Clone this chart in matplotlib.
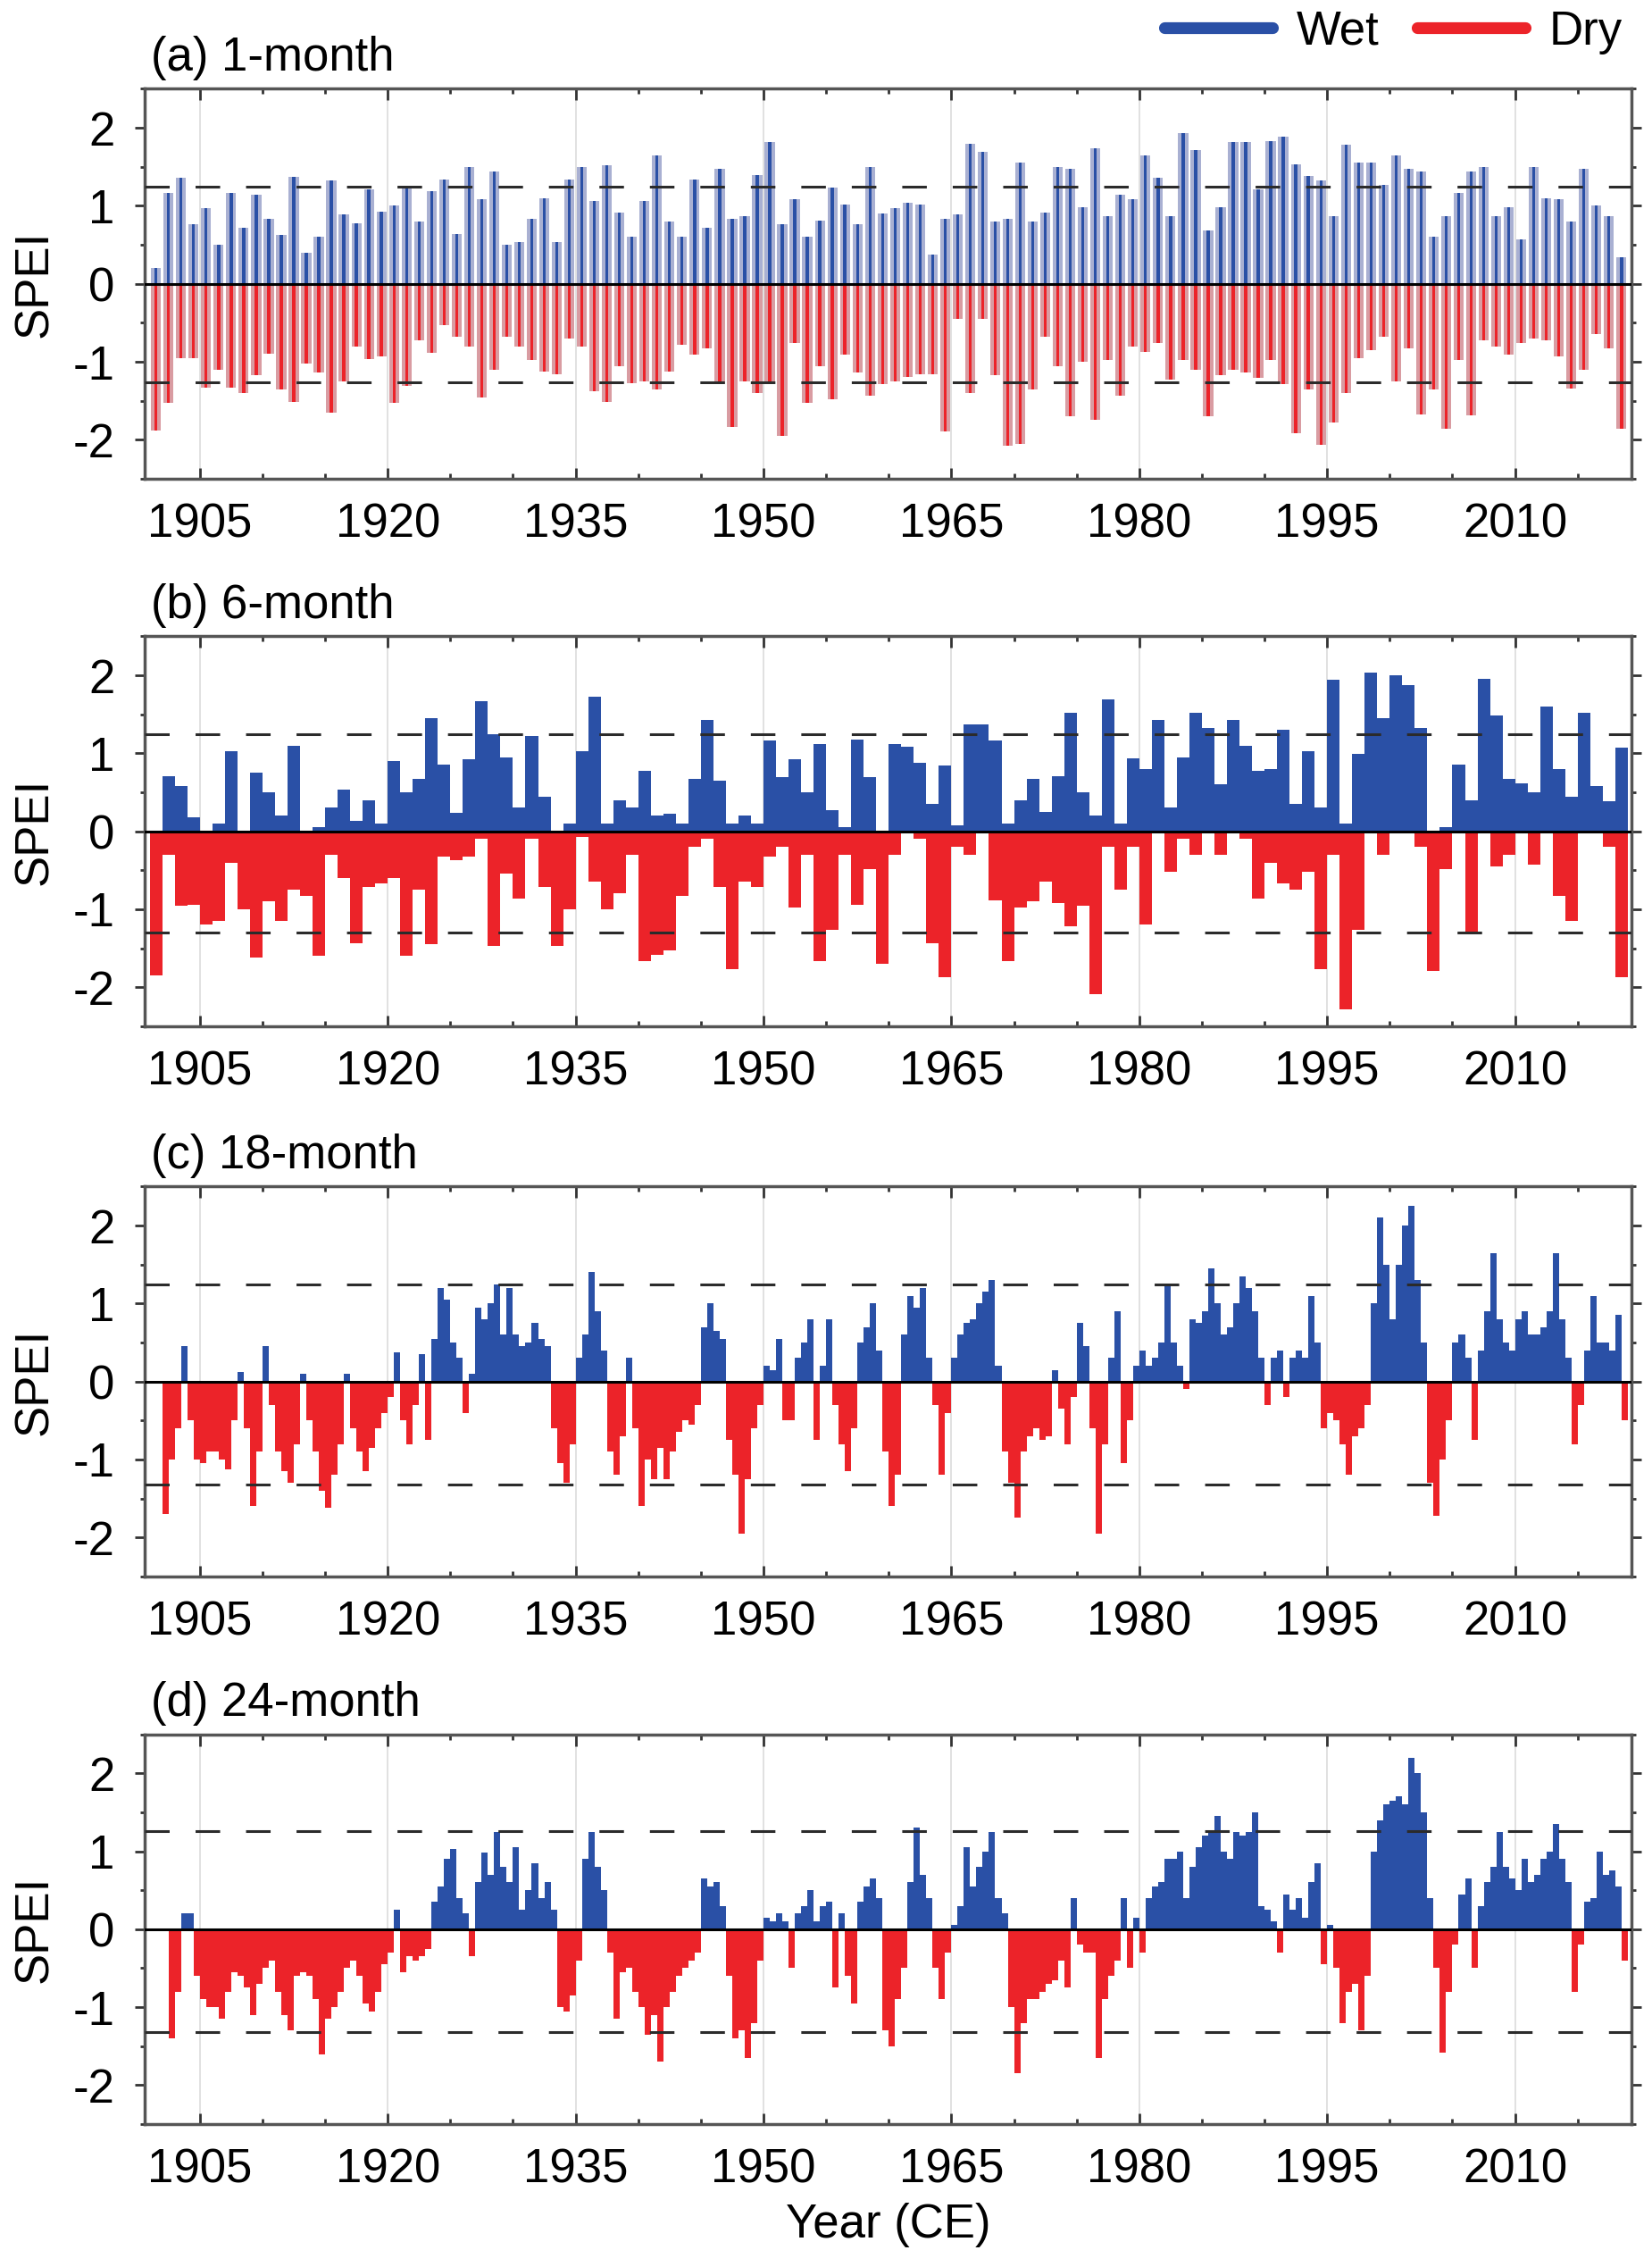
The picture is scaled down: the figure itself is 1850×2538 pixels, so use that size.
import numpy as np
import matplotlib.pyplot as plt
from matplotlib.lines import Line2D
from matplotlib.ticker import MultipleLocator

plt.rcParams['font.family'] = ['Liberation Sans', 'DejaVu Sans']
plt.rcParams['axes.unicode_minus'] = False

# years covered by the yearly series (panels a and b)
years = np.arange(1901, 2019)

# (a) 1-month SPEI: wettest and driest month of each year
wet_1m = [0.2, 1.17, 1.36, 0.76, 0.97, 0.5, 1.17, 0.72, 1.14, 0.83,
          0.63, 1.37, 0.4, 0.6, 1.33, 0.89, 0.78, 1.21, 0.93, 1.0,
          1.23, 0.8, 1.19, 1.34, 0.64, 1.5, 1.08, 1.44, 0.5, 0.53,
          0.83, 1.1, 0.53, 1.34, 1.5, 1.06, 1.52, 0.91, 0.6, 1.06,
          1.65, 0.8, 0.6, 1.34, 0.72, 1.48, 0.83, 0.87, 1.4, 1.82,
          0.76, 1.08, 0.6, 0.81, 1.23, 1.02, 0.76, 1.5, 0.9, 0.97,
          1.04, 1.02, 0.38, 0.83, 0.89, 1.79, 1.69, 0.8, 0.83, 1.55,
          0.8, 0.91, 1.5, 1.48, 0.98, 1.74, 0.87, 1.14, 1.08, 1.65,
          1.36, 0.87, 1.93, 1.72, 0.68, 0.98, 1.82, 1.82, 1.21, 1.83,
          1.89, 1.53, 1.38, 1.33, 0.87, 1.78, 1.55, 1.55, 1.27, 1.65,
          1.48, 1.44, 0.6, 0.87, 1.17, 1.44, 1.5, 0.87, 0.98, 0.57,
          1.5, 1.1, 1.08, 0.8, 1.48, 1.0, 0.87, 0.34]
dry_1m = [-1.88, -1.53, -0.95, -0.95, -1.33, -1.1, -1.33, -1.4, -1.17, -0.9,
          -1.36, -1.52, -1.02, -1.14, -1.65, -1.25, -0.8, -0.97, -0.93, -1.53,
          -1.31, -0.72, -0.89, -0.53, -0.68, -0.8, -1.46, -1.1, -0.68, -0.8,
          -0.98, -1.12, -1.16, -0.7, -0.8, -1.38, -1.52, -1.06, -1.27, -1.25,
          -1.36, -1.12, -0.78, -0.91, -0.83, -1.29, -1.84, -1.25, -1.4, -1.25,
          -1.95, -0.76, -1.53, -1.06, -1.48, -0.91, -1.14, -1.44, -1.29, -1.25,
          -1.19, -1.16, -1.16, -1.89, -0.45, -1.4, -0.45, -1.17, -2.08, -2.05,
          -1.36, -0.68, -1.06, -1.7, -1.0, -1.74, -0.98, -1.44, -0.8, -0.87,
          -0.76, -1.23, -0.98, -1.1, -1.7, -1.17, -1.1, -1.14, -1.21, -0.98,
          -1.29, -1.91, -1.36, -2.06, -1.78, -1.4, -0.95, -0.85, -0.68, -1.25,
          -0.83, -1.67, -1.36, -1.86, -0.98, -1.69, -0.72, -0.8, -0.91, -0.76,
          -0.7, -0.72, -0.93, -1.34, -1.1, -0.64, -0.83, -1.86]

# (b) 6-month SPEI: wettest and driest value of each year
wet_6m = [0.0, 0.71, 0.58, 0.18, 0.0, 0.1, 1.03, 0.0, 0.75, 0.5,
          0.2, 1.1, 0.0, 0.05, 0.3, 0.54, 0.13, 0.4, 0.1, 0.9,
          0.5, 0.67, 1.45, 0.86, 0.24, 0.92, 1.67, 1.24, 0.95, 0.3,
          1.22, 0.44, 0.0, 0.1, 1.03, 1.73, 0.1, 0.4, 0.3, 0.78,
          0.2, 0.23, 0.1, 0.67, 1.43, 0.65, 0.1, 0.2, 0.1, 1.16,
          0.7, 0.92, 0.5, 1.12, 0.27, 0.05, 1.18, 0.7, 0.0, 1.12,
          1.09, 0.88, 0.35, 0.84, 0.08, 1.37, 1.37, 1.16, 0.1, 0.4,
          0.67, 0.25, 0.71, 1.52, 0.5, 0.2, 1.69, 0.1, 0.94, 0.8,
          1.43, 0.3, 0.95, 1.52, 1.33, 0.6, 1.43, 1.1, 0.78, 0.8,
          1.3, 0.35, 1.03, 0.3, 1.94, 0.1, 0.99, 2.03, 1.45, 2.0,
          1.88, 1.33, 0.0, 0.05, 0.86, 0.4, 1.96, 1.48, 0.67, 0.61,
          0.5, 1.6, 0.8, 0.44, 1.52, 0.58, 0.39, 1.07]
dry_6m = [-1.85, -0.3, -0.96, -0.94, -1.2, -1.15, -0.4, -1.0, -1.62, -0.9,
          -1.15, -0.75, -0.83, -1.6, -0.3, -0.6, -1.43, -0.71, -0.67, -0.6,
          -1.6, -0.75, -1.45, -0.33, -0.37, -0.33, -0.1, -1.47, -0.54, -0.86,
          -0.1, -0.71, -1.47, -1.0, -0.07, -0.64, -1.0, -0.79, -0.3, -1.66,
          -1.58, -1.53, -0.83, -0.2, -0.1, -0.71, -1.77, -0.64, -0.71, -0.33,
          -0.2, -0.98, -0.3, -1.66, -1.26, -0.3, -0.94, -0.48, -1.7, -0.3,
          0.0, -0.1, -1.43, -1.87, -0.2, -0.3, 0.0, -0.88, -1.66, -0.98,
          -0.9, -0.64, -0.92, -1.22, -0.96, -2.09, -0.2, -0.75, -0.2, -1.2,
          0.0, -0.52, -0.1, -0.3, 0.0, -0.3, 0.0, -0.1, -0.86, -0.41,
          -0.67, -0.75, -0.52, -1.77, -0.3, -2.28, -1.26, 0.0, -0.3, 0.0,
          0.0, -0.2, -1.79, -0.48, 0.0, -1.3, 0.0, -0.45, -0.3, 0.0,
          -0.43, 0.0, -0.83, -1.15, 0.0, 0.0, -0.2, -1.87]

# (c) 18-month SPEI, half-year steps from 1901.0 (one row = ten years)
spei_18m = [0.0, 0.0, -1.7, -1.0, -0.6, 0.45, -0.5, -1.0, -1.05, -0.9,
            -0.9, -1.0, -1.13, -0.5, 0.12, -0.6, -1.6, -0.9, 0.45, -0.3,
            -0.9, -1.15, -1.3, -0.8, 0.1, -0.5, -0.9, -1.4, -1.62, -1.2,
            -0.8, 0.1, -0.6, -0.9, -1.15, -0.85, -0.6, -0.4, -0.2, 0.37,
            -0.5, -0.8, -0.3, 0.35, -0.75, 0.55, 1.2, 1.05, 0.5, 0.3,
            -0.4, 0.1, 0.95, 0.8, 1.0, 1.25, 0.6, 1.2, 0.6, 0.45,
            0.5, 0.75, 0.55, 0.45, -0.6, -1.05, -1.3, -0.8, 0.3, 0.6,
            1.4, 0.9, 0.4, -0.9, -1.2, -0.7, 0.3, -0.6, -1.6, -1.0,
            -1.25, -0.85, -1.25, -0.9, -0.65, -0.5, -0.55, -0.3, 0.7, 1.0,
            0.65, 0.55, -0.75, -1.2, -1.95, -1.25, -0.6, -0.3, 0.2, 0.15,
            0.55, -0.5, -0.5, 0.3, 0.5, 0.8, -0.75, 0.2, 0.8, -0.3,
            -0.8, -1.15, -0.6, 0.5, 0.7, 1.0, 0.4, -0.9, -1.6, -1.2,
            0.6, 1.1, 0.95, 1.2, 0.3, -0.3, -1.2, -0.4, 0.3, 0.6,
            0.75, 0.8, 1.0, 1.15, 1.3, 0.2, -0.9, -1.3, -1.75, -0.9,
            -0.7, -0.6, -0.75, -0.7, 0.15, -0.35, -0.8, -0.2, 0.75, 0.45,
            -0.6, -1.95, -0.8, 0.3, 0.9, -1.05, -0.5, 0.2, 0.4, 0.2,
            0.3, 0.5, 1.25, 0.5, 0.2, -0.1, 0.8, 0.75, 0.9, 1.45,
            1.0, 0.6, 0.7, 1.0, 1.35, 1.2, 0.9, 0.3, -0.3, 0.3,
            0.4, -0.2, 0.3, 0.4, 0.3, 1.1, 0.5, -0.6, -0.4, -0.5,
            -0.8, -1.2, -0.7, -0.6, -0.3, 1.0, 2.1, 1.5, 0.8, 1.5,
            2.0, 2.25, 1.3, 0.5, -1.3, -1.72, -1.0, -0.5, 0.5, 0.6,
            0.3, -0.75, 0.4, 0.9, 1.65, 0.8, 0.5, 0.4, 0.8, 0.9,
            0.6, 0.6, 0.7, 0.9, 1.65, 0.8, 0.3, -0.8, -0.3, 0.4,
            1.1, 0.5, 0.5, 0.4, 0.85, -0.5]

# (d) 24-month SPEI, half-year steps from 1901.0
spei_24m = [0.0, 0.0, 0.0, -1.4, -0.8, 0.2, 0.2, -0.6, -0.9, -1.0,
            -1.0, -1.15, -0.8, -0.55, -0.6, -0.75, -1.1, -0.7, -0.5, -0.4,
            -0.8, -1.1, -1.3, -0.6, -0.55, -0.6, -0.9, -1.6, -1.15, -1.0,
            -0.8, -0.5, -0.4, -0.6, -0.95, -1.05, -0.8, -0.45, -0.3, 0.25,
            -0.55, -0.35, -0.4, -0.35, -0.25, 0.35, 0.55, 0.9, 1.03, 0.4,
            0.2, -0.35, 0.6, 0.98, 0.7, 1.25, 0.8, 0.6, 1.05, 0.25,
            0.5, 0.85, 0.4, 0.6, 0.25, -1.0, -1.05, -0.85, -0.4, 0.9,
            1.25, 0.8, 0.5, -0.3, -1.15, -0.55, -0.5, -0.8, -1.0, -1.35,
            -1.1, -1.7, -1.0, -0.8, -0.6, -0.5, -0.4, -0.3, 0.65, 0.55,
            0.6, 0.3, -0.6, -1.4, -1.3, -1.65, -1.2, -0.4, 0.15, 0.1,
            0.2, 0.1, -0.5, 0.2, 0.3, 0.5, 0.1, 0.3, 0.35, -0.75,
            0.2, -0.6, -0.95, 0.35, 0.55, 0.65, 0.4, -1.3, -1.5, -0.9,
            -0.5, 0.6, 1.3, 0.7, 0.4, -0.5, -0.9, -0.3, 0.05, 0.3,
            1.05, 0.55, 0.8, 1.0, 1.25, 0.4, 0.2, -1.0, -1.85, -1.2,
            -0.9, -0.9, -0.8, -0.7, -0.65, -0.4, -0.75, 0.4, -0.2, -0.3,
            -0.3, -1.65, -0.9, -0.6, -0.4, 0.4, -0.5, 0.15, -0.3, 0.4,
            0.55, 0.6, 0.9, 0.9, 1.0, 0.4, 0.8, 1.05, 1.2, 1.25,
            1.45, 1.0, 0.9, 1.25, 1.2, 1.25, 1.5, 0.3, 0.25, 0.1,
            -0.3, 0.45, 0.25, 0.4, 0.15, 0.6, 0.85, -0.45, 0.05, -0.5,
            -1.2, -0.8, -0.7, -1.3, -0.6, 1.0, 1.4, 1.6, 1.65, 1.7,
            1.6, 2.2, 2.0, 1.5, 0.4, -0.5, -1.58, -0.8, -0.2, 0.45,
            0.65, -0.5, 0.3, 0.6, 0.8, 1.25, 0.8, 0.65, 0.5, 0.9,
            0.6, 0.7, 0.9, 1.0, 1.35, 0.9, 0.6, -0.8, -0.2, 0.35,
            0.4, 1.0, 0.7, 0.75, 0.55, -0.4]

half_years = 1901 + 0.5 * np.arange(len(spei_18m))

panel_titles = ['(a) 1-month', '(b) 6-month', '(c) 18-month', '(d) 24-month']
upper_thr = [1.25, 1.25, 1.25, 1.26]
lower_thr = [-1.26, -1.30, -1.32, -1.32]
year_ticks = [1905, 1920, 1935, 1950, 1965, 1980, 1995, 2010]

BLUE = '#2a50a6'
RED = '#ec2329'
PALE_BLUE = '#a9b0d2'
PALE_RED = '#d99ca2'
FS = 38

fig = plt.figure(figsize=(18.5, 25.38), dpi=100)
bottoms = [0.7888, 0.5473, 0.3046, 0.0630]
axes = [fig.add_axes([0.0876, b, 0.900, 0.172]) for b in bottoms]

for i, ax in enumerate(axes):
    if i == 0:
        # monthly bars: pale full extent with a darker thin core
        ax.bar(years + 0.1, wet_1m, width=0.8, align='edge', color=PALE_BLUE, lw=0)
        ax.bar(years + 0.1, dry_1m, width=0.8, align='edge', color=PALE_RED, lw=0)
        ax.bar(years + 0.38, wet_1m, width=0.24, align='edge', color=BLUE, lw=0)
        ax.bar(years + 0.38, dry_1m, width=0.24, align='edge', color=RED, lw=0)
    elif i == 1:
        ax.bar(years, wet_6m, width=1.0, align='edge', color=BLUE, lw=0)
        ax.bar(years, dry_6m, width=1.0, align='edge', color=RED, lw=0)
    else:
        vals = np.array(spei_18m if i == 2 else spei_24m)
        cols = np.where(vals >= 0, BLUE, RED)
        ax.bar(half_years, vals, width=0.5, align='edge', color=cols, lw=0)

    ax.axhline(0, color='black', lw=2.2, zorder=3)
    ax.axhline(upper_thr[i], color='#2b2b2b', lw=2.2, dashes=(9, 9.5), zorder=3)
    ax.axhline(lower_thr[i], color='#2b2b2b', lw=2.2, dashes=(9, 9.5), zorder=3)

    ax.set_xlim(1900.6, 2019.3)
    ax.set_ylim(-2.5, 2.5)
    ax.set_xticks(year_ticks)
    ax.xaxis.set_minor_locator(MultipleLocator(5))
    ax.set_yticks([-2, -1, 0, 1, 2])
    ax.yaxis.set_minor_locator(MultipleLocator(0.5))
    ax.xaxis.grid(True, which='major', color='#dedede', lw=1.3)
    ax.set_axisbelow(True)

    ax.tick_params(axis='x', which='both', direction='in', top=True, bottom=True,
                   labelsize=FS, pad=19, width=2, color='#333333')
    ax.tick_params(axis='x', which='major', length=9)
    ax.tick_params(axis='x', which='minor', length=4.5)
    ax.tick_params(axis='y', which='both', direction='out', left=True, right=True,
                   labelsize=FS, pad=16, width=2, color='#333333')
    ax.tick_params(axis='y', which='major', length=8)
    ax.tick_params(axis='y', which='minor', length=3.5)
    for s in ax.spines.values():
        s.set_color('#555555')
        s.set_linewidth(2.5)

    ax.set_ylabel('SPEI', fontsize=FS)
    ax.yaxis.set_label_coords(-0.059, 0.5)
    ax.text(0.004, 1.046, panel_titles[i], transform=ax.transAxes,
            fontsize=FS, ha='left', va='baseline')

axes[-1].set_xlabel('Year (CE)', fontsize=FS, labelpad=8)

handles = [Line2D([], [], color=BLUE, lw=9.5, solid_capstyle='round'),
           Line2D([], [], color=RED, lw=9.5, solid_capstyle='round')]
axes[0].legend(handles, ['Wet', 'Dry'], loc='lower right', bbox_to_anchor=(1.0, 1.065),
               ncol=2, frameon=False, fontsize=FS, handlelength=2.3,
               handletextpad=0.5, columnspacing=0.8, borderpad=0.2, borderaxespad=0)

fig.savefig('out.png', dpi=100)
